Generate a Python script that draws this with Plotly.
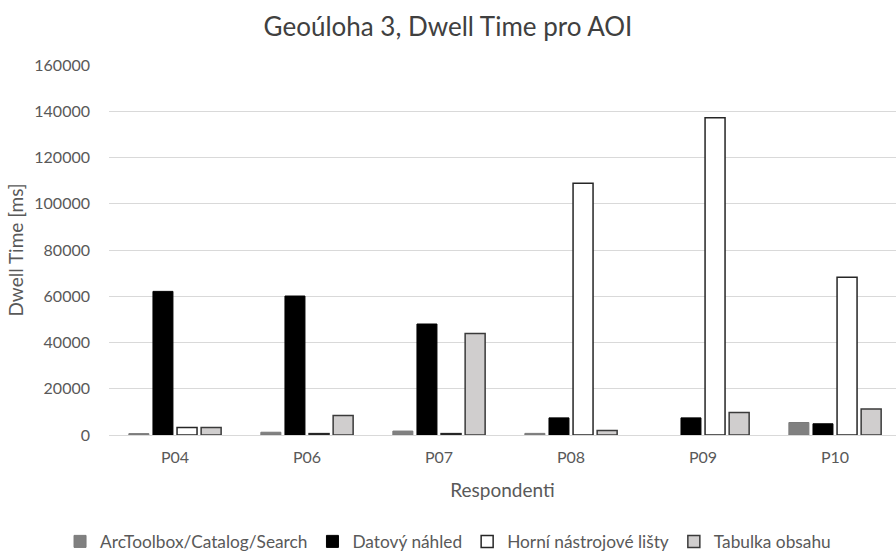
import plotly.graph_objects as go

# ── data ────────────────────────────────────────────────────────────────────
respondents = ["P04", "P06", "P07", "P08", "P09", "P10"]

# P09 has no ArcToolbox bar at all in the source chart
arctoolbox = [600, 1200, 1700, 700, None, 5400]       # ArcToolbox/Catalog/Search
datovy = [62100, 60100, 48000, 7400, 7400, 4850]      # Datový náhled
horni = [3200, 600, 600, 108900, 137200, 68200]       # Horní nástrojové lišty
tabulka = [3200, 8400, 43900, 1900, 9750, 11200]      # Tabulka obsahu

y_ticks = [0, 20000, 40000, 60000, 80000, 100000, 120000, 140000, 160000]

# ── series styling ─────────────────────────────────────────────────────────
series = [
    ("ArcToolbox/Catalog/Search", arctoolbox, "#808080", "#7a7a7a", 1),
    ("Datový náhled", datovy, "#000000", "#000000", 1),
    ("Horní nástrojové lišty", horni, "#ffffff", "#262626", 1.5),
    ("Tabulka obsahu", tabulka, "#d0cece", "#3a3a3a", 1.5),
]

fig = go.Figure()
for name, values, fill, edge, lw in series:
    fig.add_trace(go.Bar(
        name=name,
        x=respondents,
        y=values,
        marker=dict(color=fill, line=dict(color=edge, width=lw)),
    ))

text_color = "#595959"
font_family = "Lato, Noto Sans, sans-serif"

fig.update_layout(
    width=896,
    height=551,
    paper_bgcolor="white",
    plot_bgcolor="white",
    margin=dict(l=109, r=0, t=65, b=116, autoexpand=False),
    barmode="group",
    bargap=0.27,
    bargroupgap=0.17,
    font=dict(family=font_family, size=16, color=text_color),
    title=dict(
        text="Geoúloha 3, Dwell Time pro AOI",
        x=0.5,
        xref="container",
        xanchor="center",
        y=0.951,
        yref="container",
        yanchor="middle",
        font=dict(size=26, color="#404040"),
    ),
    showlegend=True,
    legend=dict(
        orientation="h",
        xref="container",
        x=0.067,
        xanchor="left",
        yref="container",
        y=0.017,
        yanchor="middle",
        font=dict(size=17.3, color=text_color),
        itemwidth=30,
    ),
)

fig.update_yaxes(
    title=dict(text="Dwell Time [ms]", font=dict(size=19, color=text_color), standoff=5),
    automargin=False,
    range=[0, 160000],
    tickvals=y_ticks,
    ticktext=[str(v) for v in y_ticks],
    tickfont=dict(size=16, color=text_color),
    ticklabelstandoff=18,
    showgrid=True,
    gridcolor="#d9d9d9",
    gridwidth=1,
    zeroline=False,
    showline=False,
    ticks="",
)

fig.update_xaxes(
    title=dict(text="Respondenti", font=dict(size=19, color=text_color), standoff=18),
    automargin=False,
    range=[-0.5, 5.462],
    tickfont=dict(size=16, color=text_color),
    ticklabelstandoff=8,
    showline=True,
    linecolor="#d9d9d9",
    linewidth=1,
    ticks="",
    showgrid=False,
)

# the page body has a default 8px margin; drop it so the figure fills the window
fig.write_html(
    "out.html",
    config={"displayModeBar": False},
    post_script="document.body.style.margin='0';",
)
